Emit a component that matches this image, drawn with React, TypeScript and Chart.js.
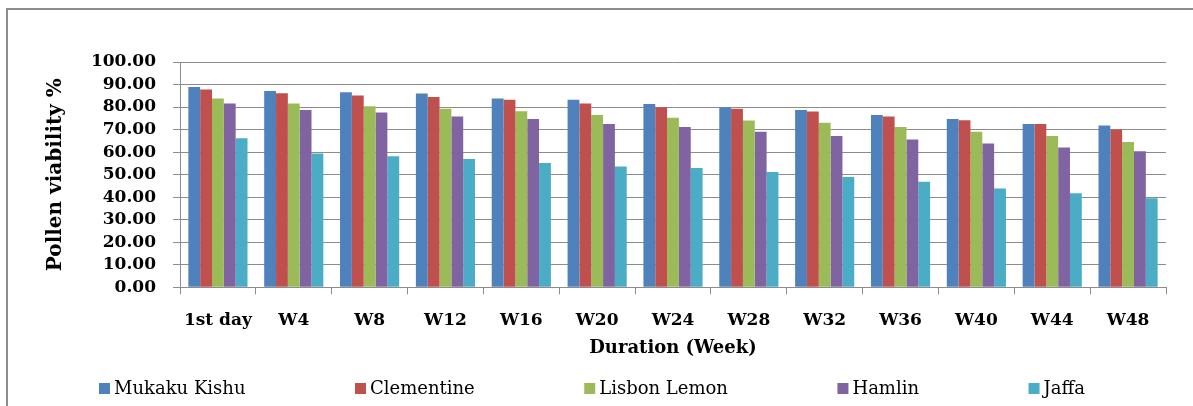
import React, { useEffect, useRef } from "react";
import { Chart, registerables } from "chart.js";

Chart.register(...registerables);

const categories = ["1st day", "W4", "W8", "W12", "W16", "W20", "W24", "W28", "W32", "W36", "W40", "W44", "W48"];
const mukakuKishu = [88.9, 87.1, 86.6, 86.0, 83.8, 83.2, 81.4, 79.9, 78.7, 76.5, 74.7, 72.5, 71.8];
const clementine = [87.8, 86.1, 85.1, 84.5, 83.2, 81.6, 79.9, 79.2, 78.0, 75.8, 74.2, 72.5, 70.0];
const lisbonLemon = [83.8, 81.6, 80.4, 79.2, 78.1, 76.5, 75.2, 74.0, 73.0, 71.2, 69.0, 67.2, 64.5];
const hamlin = [81.6, 78.7, 77.6, 75.8, 74.7, 72.5, 71.2, 69.0, 67.2, 65.6, 63.8, 62.0, 60.4];
const jaffa = [66.2, 59.4, 58.2, 57.0, 55.2, 53.6, 53.0, 51.2, 49.0, 46.8, 43.9, 41.7, 39.5];

const seriesNames = ["Mukaku Kishu", "Clementine", "Lisbon Lemon", "Hamlin", "Jaffa"];
const seriesValues = [mukakuKishu, clementine, lisbonLemon, hamlin, jaffa];
const seriesColors = ["#4F81BD", "#C0504D", "#9BBB59", "#8064A2", "#4BACC6"];

const yMin = 0;
const yMax = 100;
const yStep = 10;

const FONT = "'DejaVu Serif', serif";
const GRID = "#8c8c8c";

const rowLegend = {
  id: "rowLegend",
  afterDraw(chart: any) {
    const ctx = chart.ctx;
    ctx.save();
    ctx.font = "18px 'DejaVu Serif'";
    ctx.textBaseline = "middle";
    ctx.textAlign = "left";
    const box = 11;
    const gapText = 4;
    const ds = chart.data.datasets;
    const widths = ds.map((d: any) => box + gapText + ctx.measureText(d.label).width);
    const left = 99;
    const right = 1085;
    const total = widths.reduce((a: number, b: number) => a + b, 0);
    const gap = (right - left - total) / (widths.length - 1);
    const cy = 388.5;
    let x = left;
    ds.forEach((d: any, i: number) => {
      ctx.fillStyle = d.backgroundColor;
      ctx.fillRect(x, cy - box / 2, box, box);
      ctx.fillStyle = "#000";
      ctx.fillText(d.label, x + box + gapText, cy + 1);
      x += widths[i] + gap;
    });
    ctx.restore();
  },
};

export default function App() {
  const ref = useRef<HTMLCanvasElement | null>(null);

  useEffect(() => {
    if (!ref.current) return;
    const chart = new Chart(ref.current, {
      type: "bar",
      data: {
        labels: categories,
        datasets: seriesNames.map((name, i) => ({
          label: name,
          data: seriesValues[i],
          backgroundColor: seriesColors[i],
          borderWidth: 0,
          barPercentage: 1,
          categoryPercentage: 0.78,
        })),
      },
      options: {
        animation: false,
        responsive: true,
        maintainAspectRatio: false,
        layout: { padding: { left: 0, right: 27, top: 62, bottom: 47.2 } },
        plugins: {
          legend: { display: false },
          tooltip: { enabled: false },
          title: { display: false },
        },
        scales: {
          x: {
            ticks: {
              color: "#000",
              font: { family: FONT, size: 17, weight: "bold" },
              padding: 16,
              maxRotation: 0,
              autoSkip: false,
            },
            grid: { drawOnChartArea: false, drawTicks: true, tickLength: 7, color: GRID, offset: true },
            border: { color: GRID, width: 1 },
            title: {
              display: true,
              text: "Duration (Week)",
              color: "#000",
              font: { family: FONT, size: 18, weight: "bold" },
              padding: { top: 0, bottom: 0 },
            },
            afterFit: (s: any) => {
              s.height = 71.5;
            },
          },
          y: {
            min: yMin,
            max: yMax,
            ticks: {
              stepSize: yStep,
              autoSkip: false,
              color: "#000",
              font: { family: FONT, size: 17, weight: "bold" },
              padding: 17,
              callback: (v: any) => Number(v).toFixed(2),
            },
            grid: { color: GRID, lineWidth: 1, tickLength: 7, drawTicks: true },
            border: { color: GRID, width: 1 },
            title: {
              display: true,
              text: "Pollen viability %",
              color: "#000",
              font: { family: FONT, size: 20, weight: "bold" },
              padding: { top: 44, bottom: 0 },
            },
            afterFit: (s: any) => {
              s.width = 180;
            },
          },
        },
      },
      plugins: [rowLegend],
    });
    return () => chart.destroy();
  }, []);

  return (
    <div
      style={{
        position: "fixed",
        left: 0,
        top: 0,
        width: 1193,
        height: 406,
        overflow: "hidden",
        background: "#fff",
      }}
    >
      <div style={{ position: "absolute", left: 6, top: 8, width: 1187, height: 2, background: "#8d8d8d" }} />
      <div style={{ position: "absolute", left: 6, top: 8, width: 2, height: 398, background: "#8d8d8d" }} />
      <div style={{ position: "absolute", left: 0, top: 0, width: 1193, height: 406 }}>
        <canvas ref={ref} />
      </div>
    </div>
  );
}
